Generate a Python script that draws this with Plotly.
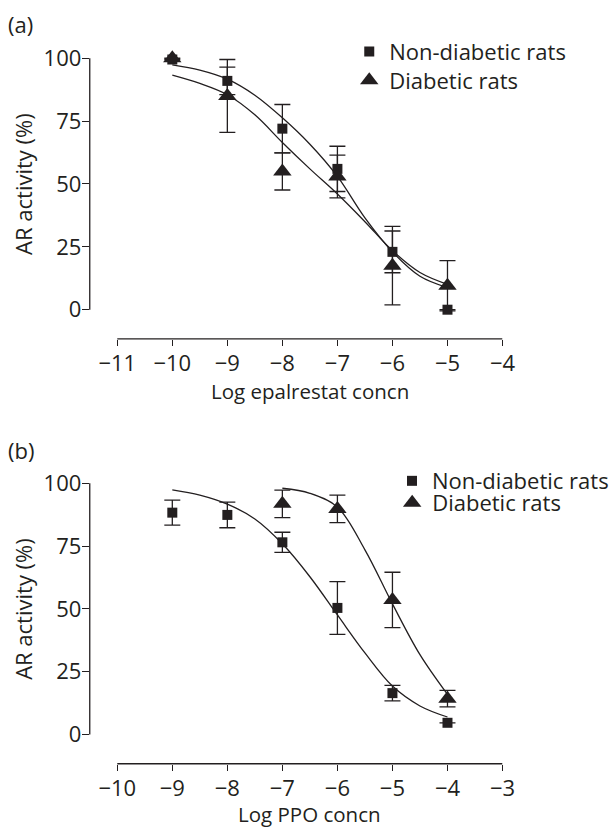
import plotly.graph_objects as go

# ---------------- data ----------------
# Panel (a): epalrestat
log_epalrestat = [-10, -9, -8, -7, -6, -5]
nondiab_a = [99.5, 91.0, 72.0, 56.0, 23.0, 0.0]
nondiab_a_err = [None, 5.5, 9.6, 9.0, 8.3, None]
diab_a = [100.0, 85.0, 55.0, 53.0, 17.5, 9.5]
diab_a_err = [None, 14.5, 7.4, 8.5, 15.6, 10.0]

fit_x_a = [-10, -9.5, -9, -8.5, -8, -7.5, -7, -6.5, -6, -5.5, -5]
nondiab_fit_a = [97.4, 95.3, 91.7, 85.3, 76.3, 65.8, 53.0, 36.5, 23.0, 13.3, 8.8]
diab_fit_a = [93.3, 90.0, 85.5, 77.5, 66.5, 56.0, 46.0, 35.0, 23.5, 14.8, 10.1]

# Panel (b): PPO
log_ppo_nondiab = [-9, -8, -7, -6, -5, -4]
nondiab_b = [88.3, 87.4, 76.5, 50.4, 16.5, 4.7]
nondiab_b_err = [5.0, 5.1, 4.0, 10.5, 3.1, None]
log_ppo_diab = [-7, -6, -5, -4]
diab_b = [91.8, 89.8, 53.6, 14.3]
diab_b_err = [5.5, 5.5, 11.0, 3.3]

fit_x_b_nondiab = [-9, -8.5, -8, -7.5, -7, -6.5, -6, -5.5, -5, -4.5, -4]
nondiab_fit_b = [97.4, 95.3, 91.7, 85.8, 75.9, 62.8, 47.6, 32.5, 19.3, 11.4, 7.0]
fit_x_b_diab = [-7, -6.5, -6, -5.5, -5, -4.5, -4]
diab_fit_b = [98.0, 96.0, 90.5, 73.5, 52.0, 31.8, 16.0]

y_ticks = [0, 25, 50, 75, 100]
x_ticks_a = [-11, -10, -9, -8, -7, -6, -5, -4]
x_ticks_b = [-10, -9, -8, -7, -6, -5, -4, -3]

labels = {
    "nondiab": "Non-diabetic rats",
    "diab": "Diabetic rats",
    "ytitle": "AR activity (%)",
    "xtitle_a": "Log epalrestat concn",
    "xtitle_b": "Log PPO concn",
    "panel_a": "(a)",
    "panel_b": "(b)",
}

# ---------------- style ----------------
INK = "#231f20"
FONT = "Open Sans"
FS = 22
FS_XT = 20.5
W, H = 614, 827


def px_x(p):
    return p / W


def px_y(p):
    return 1 - p / H


fig = go.Figure()


def add_panel(xa, ya, legends, fit_sets, pts_sets):
    for fx, fy in fit_sets:
        fig.add_trace(go.Scatter(
            x=fx, y=fy, mode="lines", line=dict(color=INK, width=1.3, shape="spline", smoothing=1.0),
            xaxis=xa, yaxis=ya, showlegend=False, hoverinfo="skip"))
    for (x, y, e, sym, size, name), leg in zip(pts_sets, legends):
        fig.add_trace(go.Scatter(
            x=x, y=y, mode="markers", name=name,
            marker=dict(symbol=sym, size=size, color=INK, line=dict(width=0)),
            error_y=dict(type="data", array=e, visible=True, color=INK, thickness=1.3, width=8),
            xaxis=xa, yaxis=ya, legend=leg, cliponaxis=False))


add_panel("x", "y", ["legend", "legend2"],
          [(fit_x_a, nondiab_fit_a), (fit_x_a, diab_fit_a)],
          [(log_epalrestat, nondiab_a, nondiab_a_err, "square", 10, labels["nondiab"]),
           (log_epalrestat, diab_a, diab_a_err, "triangle-up", 16, labels["diab"])])

add_panel("x2", "y2", ["legend3", "legend4"],
          [(fit_x_b_nondiab, nondiab_fit_b), (fit_x_b_diab, diab_fit_b)],
          [(log_ppo_nondiab, nondiab_b, nondiab_b_err, "square", 10, labels["nondiab"]),
           (log_ppo_diab, diab_b, diab_b_err, "triangle-up", 16, labels["diab"])])

# geometry (pixels)
x_left, x_right = 92, 515.1
a_top, a_bot = 42.5, 335.3
b_top, b_bot = 470.6, 763.3

axis_common = dict(showgrid=False, zeroline=False, showline=False, ticks="outside",
                   tickcolor=INK, tickwidth=1.2, tickfont=dict(family=FONT, size=FS, color=INK))


def legend_at(xp, yp):
    return dict(x=px_x(xp), y=px_y(yp), xanchor="left", yanchor="middle",
                bgcolor="rgba(0,0,0,0)", font=dict(family=FONT, size=FS, color=INK),
                itemwidth=30, borderwidth=0)


fig.update_layout(
    width=W, height=H, margin=dict(l=0, r=0, t=0, b=0),
    paper_bgcolor="white", plot_bgcolor="white",
    font=dict(family=FONT, size=FS, color=INK),
    xaxis=dict(domain=[px_x(x_left), px_x(x_right)], range=[-11.5, -4], anchor="y",
               tickvals=x_ticks_a, ticklen=6, ticklabelstandoff=-1, **axis_common),
    yaxis=dict(domain=[px_y(a_bot), px_y(a_top)], range=[-11.6, 104], anchor="x",
               tickvals=y_ticks, ticklen=7, ticklabelstandoff=-4, **axis_common),
    xaxis2=dict(domain=[px_x(x_left), px_x(x_right)], range=[-10.5, -3], anchor="y2",
                tickvals=x_ticks_b, ticklen=6, ticklabelstandoff=-1, **axis_common),
    yaxis2=dict(domain=[px_y(b_bot), px_y(b_top)], range=[-11.6, 104], anchor="x2",
                tickvals=y_ticks, ticklen=7, ticklabelstandoff=-4, **axis_common),
    legend=legend_at(358, 46),
    legend2=legend_at(358, 75),
    legend3=legend_at(402, 478.5),
    legend4=legend_at(402, 500.5),
    showlegend=True,
)

line_style = dict(color=INK, width=1.3)
fig.add_shape(type="line", xref="x domain", yref="y", x0=0, x1=0, y0=y_ticks[0], y1=y_ticks[-1], line=line_style)
fig.add_shape(type="line", xref="x", yref="y domain", x0=x_ticks_a[0], x1=x_ticks_a[-1], y0=0, y1=0, line=line_style)
fig.add_shape(type="line", xref="x2 domain", yref="y2", x0=0, x1=0, y0=y_ticks[0], y1=y_ticks[-1], line=line_style)
fig.add_shape(type="line", xref="x2", yref="y2 domain", x0=x_ticks_b[0], x1=x_ticks_b[-1], y0=0, y1=0, line=line_style)

ann_font = dict(family=FONT, size=FS, color=INK)
xt_font = dict(family=FONT, size=FS_XT, color=INK)
fig.add_annotation(text=labels["panel_a"], x=px_x(21.5), y=px_y(18), xref="paper", yref="paper",
                   showarrow=False, xanchor="center", yanchor="middle", font=ann_font)
fig.add_annotation(text=labels["panel_b"], x=px_x(21.5), y=px_y(447), xref="paper", yref="paper",
                   showarrow=False, xanchor="center", yanchor="middle", font=ann_font)
fig.add_annotation(text=labels["ytitle"], x=px_x(23.5), y=px_y((52.6 + 305.9) / 2), xref="paper", yref="paper",
                   showarrow=False, textangle=-90, xanchor="center", yanchor="middle", font=ann_font)
fig.add_annotation(text=labels["ytitle"], x=px_x(23.5), y=px_y((480.7 + 734) / 2), xref="paper", yref="paper",
                   showarrow=False, textangle=-90, xanchor="center", yanchor="middle", font=ann_font)
fig.add_annotation(text=labels["xtitle_a"], x=px_x(317.6), y=px_y(388), xref="paper", yref="paper",
                   showarrow=False, xanchor="center", yanchor="middle", font=xt_font)
fig.add_annotation(text=labels["xtitle_b"], x=px_x(317.6), y=px_y(813.5), xref="paper", yref="paper",
                   showarrow=False, xanchor="center", yanchor="middle", font=xt_font)

fig.write_html("out.html")
